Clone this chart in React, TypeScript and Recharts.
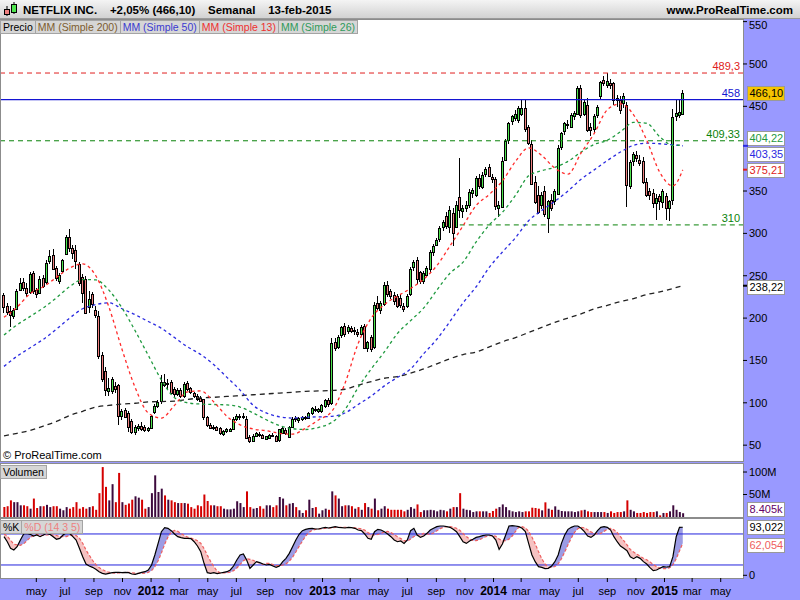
import React from 'react';
import { ComposedChart, Bar, Line, Area, XAxis, YAxis, ReferenceLine, Cell } from 'recharts';

// semana 0 = lunes 21-feb-2011, una vela por semana
const START = Date.UTC(2011, 1, 21);
const WEEK = 7 * 24 * 3600 * 1000;
const X_DOMAIN: [number, number] = [-0.915, 225.37];

// [apertura, máximo, mínimo, cierre]
const ohlc: number[][] = [
  [227, 230, 206, 213], [214, 218, 204, 207], [208, 214, 190, 203], [203, 212, 199, 210], [211, 234, 209, 232], [234, 247, 232, 242], [243, 247, 232, 236], [236, 241, 225, 230],
  [231, 255, 229, 252], [253, 256, 228, 232], [233, 236, 224, 228], [229, 250, 228, 246], [247, 251, 235, 238], [242, 268, 240, 265], [267, 280, 264, 273], [275, 281, 257, 259],
  [259, 262, 244, 247], [244, 253, 240, 251], [255, 270, 253, 268], [276, 298, 274, 296], [296, 305, 278, 283], [283, 286, 270, 277], [280, 286, 258, 267], [264, 266, 238, 241],
  [249, 252, 218, 230], [246, 250, 205, 206], [213, 232, 206, 223], [228, 231, 212, 216], [210, 214, 200, 204], [202, 208, 152, 155], [157, 160, 125, 129], [137, 142, 108, 114],
  [114, 129, 108, 118], [114, 130, 110, 128], [120, 125, 112, 116], [121, 122, 74, 84], [84, 93, 80, 90], [92, 94, 83, 84], [88, 90, 66, 72], [78, 81, 63, 65],
  [66, 74, 62, 72], [71, 75, 67, 73], [73, 77, 67, 70], [72, 74, 66, 68], [68, 72, 65, 70], [70, 86, 69, 84], [89, 98, 87, 96], [96, 103, 94, 101],
  [101, 133, 99, 124], [125, 134, 119, 121], [122, 128, 116, 123], [125, 127, 110, 112], [116, 119, 107, 110], [110, 117, 108, 115], [115, 117, 106, 108], [108, 124, 106, 122],
  [123, 126, 114, 116], [117, 119, 110, 112], [111, 113, 106, 108], [108, 110, 102, 104], [106, 108, 101, 103], [104, 105, 80, 83], [83, 84, 71, 73], [74, 76, 69, 71],
  [71, 74, 68, 72], [72, 73, 68, 69], [70, 71, 62, 64], [64, 68, 61, 67], [66, 70, 64, 68.5], [67, 70, 65, 69], [69, 83, 68, 81], [81, 87, 79, 85],
  [83, 87, 80, 84], [84, 88, 81, 85], [81, 84, 57, 59], [60, 62, 53, 55], [55, 63, 54, 61], [61, 66, 60, 64.5], [63, 65, 60, 62], [62, 63, 58, 59],
  [57.5, 61, 56, 60.5], [58.7, 63, 57, 62.5], [62.5, 64, 60, 61.5], [60.7, 62, 54, 55], [55, 69, 54, 68.5], [64, 71, 63, 70], [68, 70, 62, 64], [60, 73, 58, 72],
  [72, 83, 71, 81], [82, 85, 77, 80.5], [80, 83, 76, 82], [80.5, 84, 78, 83], [83, 85, 80, 82], [83, 89, 81, 88.5], [88, 95, 86, 94], [93, 96, 89, 92],
  [91, 94, 88, 93], [90, 98, 88, 97], [96, 104, 94, 103], [103, 106, 95, 98], [100, 176, 97, 170.7], [172, 176, 161, 165], [166, 180, 163, 178], [179, 191, 176, 189],
  [191, 194, 178, 181], [184, 192, 181, 189], [188, 191, 182, 184], [185, 189, 180, 186], [183, 187, 178, 181], [182, 192, 179, 190], [191, 193, 163, 165], [165, 173, 160, 172],
  [178, 180, 160, 163.5], [166, 219, 163, 215.8], [217.8, 226, 210, 212], [210, 220, 205, 217.8], [217, 243, 214, 239.4], [239, 244, 225, 228], [232, 234, 222, 225.6], [227, 231, 216, 219.7],
  [226, 228, 212, 214.6], [224, 228, 212, 216], [214, 218, 207, 210], [214, 228, 212, 226], [228, 260, 226, 257.9], [260, 268, 256, 265.7], [268, 272, 240, 246], [254, 256, 240, 243.3],
  [243, 256, 240, 253], [251, 262, 248, 259], [257, 280, 255, 277.5], [277, 287, 273, 284.6], [287, 295, 285, 292.5], [292.5, 309, 290, 306], [308, 316, 303, 314], [320, 325, 305, 308.2],
  [308, 332, 300, 327.8], [324, 330, 285, 300], [308, 338, 306, 333.7], [342.8, 388.7, 318, 327.8], [326, 333, 318, 329.8], [330, 338, 325, 334], [334, 352, 330, 349.4], [348, 354, 342, 351],
  [345, 368, 343, 365.2], [365, 370, 352, 355.3], [355, 372, 352, 369], [370, 378, 366, 375.8], [378, 382, 366, 367], [367, 370, 360, 365], [364, 366, 328, 331.8], [330, 338, 319, 334],
  [332, 390, 330, 386], [387, 412, 385, 409.6], [410, 432, 405, 430], [432, 440, 428, 438], [436, 446, 433, 440.6], [434, 450, 430, 447.7], [441, 458, 438, 448.5], [448.5, 457.5, 420, 424],
  [425, 428, 404, 406.5], [406, 410, 357, 359.3], [361, 368, 335, 337.7], [345.5, 356, 323, 326], [333.7, 349, 329, 345.5], [349.5, 356, 319, 322], [318, 340, 300, 337.7], [339.6, 346, 327, 329.8],
  [337.7, 352, 333, 349.5], [347.5, 404, 345, 401.3], [401.3, 420, 398, 418.2], [420, 432, 416, 430], [428, 434, 423, 429], [426, 442, 424, 439.8], [438, 444, 434, 441.8], [441.8, 474, 440, 472],
  [472, 475, 436, 440], [442, 458, 438, 455.6], [451.6, 460, 420, 422.2], [426, 430, 415, 422], [424, 441, 418, 439], [440, 452, 436, 449.7], [461.5, 480, 458, 478.4], [481, 486, 474, 477.2],
  [475, 489.3, 472, 480], [477, 482, 470, 474.5], [477, 479, 452, 457.5], [459.5, 463, 449, 457.5], [457.5, 462, 441, 445.7], [454.8, 466, 448, 462.6], [451.6, 455, 330.6, 357.3], [357, 387, 352, 384.8],
  [385, 396, 380, 393.5], [393, 397, 384, 389], [387, 392, 380, 383], [385.6, 390, 358, 361.3], [361, 365, 343, 345.5], [350, 353, 340, 345.5], [347.5, 352, 330, 335.7], [335.7, 347, 316, 341.6],
  [343.6, 346, 328, 337.7], [337, 352, 330, 349.5], [343.6, 348, 316, 329.8], [329.8, 340, 315, 337.7], [339.6, 447, 334, 437.9], [438, 458, 433, 441.8], [439.8, 458, 436, 443.8], [441.8, 469, 440, 466.1],
];

// volumen semanal, millones
const volume: number[] = [
  22, 24, 37, 33, 33, 26, 26, 24, 18.5, 41, 20, 24, 24, 27, 22, 24, 24, 18.5, 15, 22, 18.5, 22, 33, 18.5, 22, 18.5, 22, 24, 16, 53, 111, 67,
  37, 73, 33, 98, 33, 27, 30, 38.5, 46, 43, 38.5, 18.5, 22, 53, 92.6, 55.6, 63, 48, 38.5, 37, 33, 31, 31, 31, 29.6, 22, 18.5, 26, 24, 50,
  35.6, 26, 26, 24, 24, 18.5, 17, 17, 18.5, 35, 31, 22, 57, 22, 18.5, 20, 24, 18.5, 26, 26, 22, 26, 44.5, 41, 26, 29.6, 31, 22, 15, 9,
  15, 38.5, 20, 22, 7.4, 15, 18.5, 16, 57, 48, 41, 24, 26, 26, 24, 18.5, 22, 16, 31, 22, 18.5, 41, 15, 18.5, 24, 18.5, 16, 16, 16, 16,
  12.6, 16, 22, 18.5, 28, 11, 15, 15, 16, 15, 12.6, 16, 15, 12.6, 18.5, 22, 22, 53, 18.5, 16, 15, 11, 12.6, 12.6, 12.6, 12.6, 9, 13.3, 18.5, 22,
  28, 22, 15, 12.6, 11, 12.6, 11, 12.6, 12.6, 20.7, 20, 18.5, 14.8, 32.6, 18.5, 16, 23.7, 16, 13.3, 12.6, 12.6, 12.6, 11, 12.6, 14.8, 16, 12.6, 11,
  11, 11, 11, 11, 9, 12.6, 9, 11, 11, 12.6, 37, 16, 12.6, 9, 9, 11, 9, 11, 11, 12.6, 3.7, 9, 9, 12.6, 26, 16, 11, 8.405,
];

// estocástico (14 3 5)
const stochK: number[] = [
  74.7, 65, 52.2, 49, 55.4, 68.3, 80, 81.2, 79.3, 76, 78, 74.7, 78, 81.2, 79.3, 74.7, 69.6, 71.5, 78, 82.5, 81.2, 74.7, 68.3, 52.2, 36, 21.9, 18, 15.4, 11.6, 7, 3.8, 2.5,
  3.8, 5.1, 5.7, 5.7, 5.1, 5.7, 5.1, 2.5, 1.9, 3.8, 5.7, 7, 10.3, 20, 39.3, 61.8, 84.4, 92.1, 90.9, 86.4, 80, 74.7, 72.8, 71.5, 71.5, 70.9, 65, 56.7, 45.7, 23.2,
  5.1, 3.8, 5.1, 3.2, 4.5, 5.7, 7, 10.3, 18, 29.6, 39.3, 41.2, 29.6, 13.5, 20, 26.4, 24.5, 21.9, 20, 21.2, 18, 15.4, 18, 26.4, 32.8, 42.5, 55.4, 68.3, 79.3, 86.4,
  88.9, 90.2, 90.9, 89.6, 89.6, 91.5, 92.8, 91.5, 92.8, 94.1, 92.8, 92.1, 91.5, 92.8, 92.1, 90.9, 87.6, 86.4, 80, 71.5, 69.6, 84.4, 88.9, 87.6, 84.4, 80, 74.7, 68.3, 65, 66.4,
  61.8, 68.3, 86.4, 90.9, 78, 73.4, 76, 81.2, 87.6, 90.9, 94.1, 95.4, 95.4, 94.1, 92.8, 88.9, 84.4, 74.7, 65, 61.8, 66.4, 69.6, 73.4, 74.7, 76.7, 78, 78, 76, 68.3, 50.2,
  60.6, 78, 95.4, 96, 95.4, 94.1, 90.9, 84.4, 61.8, 39.3, 26.4, 16.7, 15.4, 12.9, 13.5, 18, 26.4, 39.3, 61.8, 78, 88.9, 92.8, 95.4, 95.4, 90.9, 84.4, 76, 73.4, 78, 86.4,
  92.8, 94.1, 92.8, 87.6, 74.7, 65, 56.7, 52.2, 47.7, 36, 32.2, 36, 32.8, 26.4, 21.9, 14.8, 9, 10.3, 13.5, 16.7, 16.1, 16.7, 36, 74.7, 92.8, 93.022,
];
const stochD: number[] = [
  80, 76, 68, 60, 59, 58, 61, 67, 73, 77, 79, 78, 77, 78, 78, 78, 77, 75, 75, 75, 77, 78, 77, 72, 62, 49, 39, 29, 21, 15, 11, 8,
  6, 4.6, 4.2, 4.6, 5.3, 5.5, 5.5, 4.8, 4.2, 3.8, 3.8, 4.2, 5.7, 9, 16.5, 28, 43, 60, 74, 83, 87, 85, 81, 77, 74, 72, 70, 67, 62, 52,
  39, 27, 17, 8, 4.3, 4.5, 5.1, 6.1, 9, 14, 21, 28, 32, 31, 29, 26, 23, 21, 23, 23, 21, 19, 18.5, 20, 22, 27, 35, 45, 56, 66,
  76, 83, 87, 89, 90, 90, 91, 91, 92, 92.5, 93, 93, 93, 92.5, 92.5, 92, 91, 90, 87.5, 83, 79, 78, 79, 81, 84, 85, 83, 79, 74.6, 71,
  67, 66, 70, 75, 77, 79, 81, 80, 79, 82, 86, 90, 93, 94, 94.4, 93, 91, 87, 81, 75, 70, 67.5, 67, 69, 72, 75, 76.5, 77, 75.4, 70,
  67, 67, 70, 76, 85, 93, 94, 92, 85, 74, 61, 46, 32, 22, 16, 15, 17, 22, 32, 45, 59, 72, 83, 90, 93, 92, 88, 84, 81, 80,
  81, 85, 89, 91, 88, 83, 75, 67, 59, 50, 45, 41, 37, 33, 30, 26, 21, 17, 14, 13, 13, 14.5, 20, 32, 47, 62.054,
];

// medias móviles leídas cada 4 semanas
const maWeeks: number[] = [
  0, 4, 8, 12, 16, 20, 24, 28, 32, 36, 40, 44, 48, 52, 56, 60, 64, 68, 72, 76, 80, 84, 88, 92, 96, 100,
  104, 108, 112, 116, 120, 124, 128, 132, 136, 140, 144, 148, 152, 156, 160, 164, 168, 172, 176, 180, 184, 188, 192, 196, 200, 204, 207,
];
const ma13: number[] = [
  201, 213, 229, 237, 248, 259, 264, 250, 213, 163, 118, 88, 82, 97, 113, 114, 101, 84, 74, 69, 67, 64, 63, 70, 80, 90,
  123, 170, 200, 216, 226, 235, 246, 262, 285, 309, 333, 346, 362, 385, 401, 392, 377, 370, 395, 418, 446, 453, 440, 410, 372, 356, 375.21,
];
const ma26: number[] = [
  180, 192, 202, 212, 224, 237, 245.5, 245, 233, 212, 185, 156, 127, 106, 100, 98.5, 98, 97.5, 95, 88, 80, 73, 69.5, 68.5, 71, 77,
  92, 118, 140, 160, 182, 197, 212, 233, 253, 266, 290, 310, 325, 345, 368, 374, 378, 385, 396, 405, 410, 420, 431, 430, 414, 404, 404.22,
];
const ma50: number[] = [
  143, 155, 165, 175, 187, 200, 211, 216, 218, 211, 204, 196, 188, 177, 166, 157, 145, 130, 115, 97, 88, 83.5, 82, 83, 83.4, 84,
  88, 98, 108, 120, 130, 140, 158, 175, 196, 218, 237, 260, 278, 295, 315, 327, 338, 350, 364, 375, 386, 396, 404, 406.5, 405.8, 404.5, 403.35,
];
const ma200: number[] = [
  61, 64, 67.5, 72.5, 78, 85, 90, 95, 97, 98.5, 99.5, 101, 101.5, 102, 104, 105.8, 106.5, 107.5, 108.5, 109.5, 110.5, 111.5, 112.5, 113.6, 114, 114.5,
  116, 121, 125, 129, 131, 135, 140, 146, 152, 157, 160, 166, 172, 177, 183, 189, 195, 200, 205, 211, 215, 219.5, 223, 227.7, 231, 235, 238.22,
];

const MESES = ['ene', 'feb', 'mar', 'abr', 'may', 'jun', 'jul', 'ago', 'sep', 'oct', 'nov', 'dic'];
const tickMonths: [number, number][] = [
  [2011, 4], [2011, 6], [2011, 8], [2011, 10],
  [2012, 0], [2012, 2], [2012, 4], [2012, 6], [2012, 8], [2012, 10],
  [2013, 0], [2013, 2], [2013, 4], [2013, 6], [2013, 8], [2013, 10],
  [2014, 0], [2014, 2], [2014, 4], [2014, 6], [2014, 8], [2014, 10],
  [2015, 0], [2015, 2], [2015, 4],
];
const weekPos = (y: number, m: number) => (Date.UTC(y, m, 1) - START) / WEEK;
const xTicks = tickMonths.map(([y, m]) => weekPos(y, m));
const tickText = tickMonths.map(([y, m]) => (m === 0 ? String(y) : MESES[m]));

const LEGEND: [string, string][] = [
  ['Precio', '#000'],
  ['MM (Simple 200)', '#7d5c2e'],
  ['MM (Simple 50)', '#3a3ad0'],
  ['MM (Simple 13)', '#ee3030'],
  ['MM (Simple 26)', '#2f9a5a'],
];

const rows: any[] = ohlc.map(([o, h, l, c], i) => ({
  i, o, h, l, c,
  range: [l, h],
  vol: volume[i] * 1e6,
  k: stochK[i],
  d: stochD[i],
  kUp: [stochD[i], Math.max(stochK[i], stochD[i])],
  kDn: [Math.min(stochK[i], stochD[i]), stochD[i]],
}));
maWeeks.forEach((w, j) => {
  rows[w].ma13 = ma13[j];
  rows[w].ma26 = ma26[j];
  rows[w].ma50 = ma50[j];
  rows[w].ma200 = ma200[j];
});

const FONT = '"Liberation Sans", Arial, sans-serif';
const BG = '#9999ff';

function Candle(props: any) {
  const { x, y, width, height, payload } = props;
  if (!payload || height == null) return null;
  const { o, h, l, c } = payload;
  const top = Math.min(y, y + height);
  const span = Math.abs(height);
  const k = span / (h - l);
  const cx = Math.floor(x + width / 2) + 0.5;
  const yo = top + (h - o) * k;
  const yc = top + (h - c) * k;
  const bTop = Math.round(Math.min(yo, yc)) + 0.5;
  const bH = Math.max(Math.round(Math.abs(yc - yo)), 1);
  return (
    <g shapeRendering="crispEdges">
      <line x1={cx} x2={cx} y1={top} y2={top + span} stroke="#000" />
      <rect x={cx - 1} y={bTop} width={2} height={bH} fill={c >= o ? '#4ee44e' : '#f08080'} stroke="#000" />
    </g>
  );
}

const levelLabel = (text: string, color: string) => (p: any) => {
  const vb = p.viewBox;
  return (
    <text x={vb.x + vb.width - 3} y={vb.y - 3} textAnchor="end" fontSize={11} fill={color} fontFamily={FONT}>
      {text}
    </text>
  );
};

const axisBox = (text: string, color: string, bg = '#fff', dy = 0, tick = false) => (p: any) => {
  const vb = p.viewBox;
  const x0 = vb.x + vb.width;
  const y = vb.y;
  return (
    <g>
      {tick && <line x1={x0} x2={x0 + 5} y1={y} y2={y} stroke={color} strokeWidth={2} />}
      <rect x={x0 + 4.5} y={Math.round(y + dy - 7) + 0.5} width={37} height={14} fill={bg} stroke="#999" />
      <text x={x0 + 6.5} y={y + dy + 4} fontSize={11} fill={color} fontFamily={FONT}>{text}</text>
    </g>
  );
};

const MonthTick = (props: any) => {
  const { x, y, index } = props;
  const lab = tickText[index];
  const isYear = /^\d+$/.test(lab);
  return (
    <text x={x} y={y} dy={11} textAnchor="middle" fontSize={isYear ? 12 : 11} fontWeight={isYear ? 'bold' : 'normal'} fill="#000" fontFamily={FONT}>
      {lab}
    </text>
  );
};

const yTick = { fontSize: 11, fill: '#000', fontFamily: FONT };

const legendBox = (color: string): React.CSSProperties => ({
  height: 14, boxSizing: 'border-box', marginRight: -1,
  background: '#d6d6d6', border: '1px solid #a4a4a4', color, fontSize: 10.5, lineHeight: '12px',
  padding: '0 2px', whiteSpace: 'nowrap', fontFamily: FONT,
});

const tagBox = (left: number, top: number, color: string): React.CSSProperties => ({
  position: 'absolute', left, top, height: 14, boxSizing: 'border-box',
  background: '#d6d6d6', border: '1px solid #a4a4a4', color, fontSize: 10.5, lineHeight: '12px',
  padding: '0 2px', whiteSpace: 'nowrap', fontFamily: FONT,
});

const panel = (top: number, height: number): React.CSSProperties => ({
  position: 'absolute', left: 0, top, width: 744, height, boxSizing: 'border-box',
  background: '#fff', border: '1px solid #8c8c8c',
});

export default function App() {
  return (
    <div style={{ position: 'absolute', left: 0, top: 0, width: 800, height: 600, background: BG, fontFamily: FONT, overflow: 'hidden' }}>
      {/* cabecera */}
      <div style={{ position: 'absolute', left: 0, top: 0, width: 800, height: 19, boxSizing: 'border-box', borderBottom: '1px solid #9a9a9a', background: 'linear-gradient(#f4f4f4, #d2d2d2)' }} />
      <svg style={{ position: 'absolute', left: 2, top: 2 }} width={16} height={15}>
        <line x1={5} x2={5} y1={4} y2={14} stroke="#000" />
        <rect x={2.5} y={7.5} width={5} height={5} fill="#f08080" stroke="#000" />
        <line x1={12} x2={12} y1={0} y2={12} stroke="#000" />
        <rect x={9.5} y={2.5} width={5} height={8} fill="#4ee44e" stroke="#000" />
      </svg>
      <div style={{ position: 'absolute', left: 23, top: 3, fontSize: 11.5, fontWeight: 'bold', whiteSpace: 'pre', lineHeight: '14px' }}>
        NETFLIX INC.{'    '}+2,05% (466,10){'    '}Semanal{'    '}13-feb-2015
      </div>
      <div style={{ position: 'absolute', right: 7, top: 3, fontSize: 11.5, fontWeight: 'bold', lineHeight: '14px' }}>www.ProRealTime.com</div>

      <div style={panel(19, 443)} />
      <div style={panel(463, 55)} />
      <div style={panel(518, 61)} />

      {/* precio */}
      <div style={{ position: 'absolute', left: 0, top: 19 }}>
        <ComposedChart width={800} height={443} data={rows} margin={{ top: 1, right: 0, bottom: 1, left: 1 }}>
          <XAxis dataKey="i" type="number" domain={X_DOMAIN} hide allowDataOverflow />
          <YAxis orientation="right" width={57} domain={[31.3, 551.9]} allowDataOverflow
            ticks={[50, 100, 150, 200, 250, 300, 350, 450, 500, 550]} axisLine={false}
            tickLine={{ stroke: '#000' }} tickSize={4} tickMargin={2} tick={yTick} />
          <ReferenceLine y={489.3} stroke="#e02020" strokeDasharray="5 4" label={levelLabel('489,3', '#e02020')} />
          <ReferenceLine y={458} stroke="#1414d2" strokeWidth={1.2} label={levelLabel('458', '#1414d2')} />
          <ReferenceLine y={409.33} stroke="#0a820a" strokeDasharray="5 4" label={levelLabel('409,33', '#0a820a')} />
          <ReferenceLine segment={[{ x: 139, y: 310 }, { x: X_DOMAIN[1], y: 310 }]} stroke="#0a820a" strokeDasharray="5 4" label={levelLabel('310', '#0a820a')} />
          <Line dataKey="ma200" type="monotone" stroke="#222" strokeWidth={1.3} strokeDasharray="5 4" dot={false} connectNulls isAnimationActive={false} />
          <Line dataKey="ma50" type="monotone" stroke="#2a2ae0" strokeWidth={1.3} strokeDasharray="3 3" dot={false} connectNulls isAnimationActive={false} />
          <Line dataKey="ma26" type="monotone" stroke="#1f9a3f" strokeWidth={1.3} strokeDasharray="3 3" dot={false} connectNulls isAnimationActive={false} />
          <Line dataKey="ma13" type="monotone" stroke="#ff2a2a" strokeWidth={1.3} strokeDasharray="3 3" dot={false} connectNulls isAnimationActive={false} />
          <Bar dataKey="range" barSize={3} shape={<Candle />} isAnimationActive={false} />
          <ReferenceLine y={466.1} stroke="transparent" label={axisBox('466,10', '#000', '#f5c400')} />
          <ReferenceLine y={404.22} stroke="transparent" label={axisBox('404,22', '#1f9a3f', '#fff', -7)} />
          <ReferenceLine y={403.35} stroke="transparent" label={axisBox('403,35', '#2a2ae0', '#fff', 8, true)} />
          <ReferenceLine y={375.21} stroke="transparent" label={axisBox('375,21', '#e02020', '#fff', 0, true)} />
          <ReferenceLine y={238.22} stroke="transparent" label={axisBox('238,22', '#000', '#fff', 1, true)} />
        </ComposedChart>
      </div>

      {/* volumen */}
      <div style={{ position: 'absolute', left: 0, top: 464 }}>
        <ComposedChart width={800} height={53} data={rows} margin={{ top: 1, right: 0, bottom: 0, left: 1 }}>
          <XAxis dataKey="i" type="number" domain={X_DOMAIN} hide allowDataOverflow />
          <YAxis orientation="right" width={57} domain={[0, 115.6e6]} allowDataOverflow ticks={[50e6, 100e6]}
            tickFormatter={(v: number) => `${v / 1e6}M`} axisLine={false}
            tickLine={{ stroke: '#000' }} tickSize={4} tickMargin={2} tick={yTick} />
          <Bar dataKey="vol" barSize={2} isAnimationActive={false}>
            {rows.map((r) => (
              <Cell key={r.i} fill={r.c < r.o ? '#d40000' : '#3d0a3d'} />
            ))}
          </Bar>
          <ReferenceLine y={8.405e6} stroke="transparent" label={axisBox('8.405k', '#660066', '#fff', -4)} />
        </ComposedChart>
      </div>

      {/* estocástico */}
      <div style={{ position: 'absolute', left: 0, top: 519 }}>
        <ComposedChart width={800} height={81} data={rows} margin={{ top: 1, right: 0, bottom: 0, left: 1 }}>
          <XAxis dataKey="i" type="number" domain={X_DOMAIN} allowDataOverflow ticks={xTicks} interval={0}
            height={22} axisLine={false} tickLine={{ stroke: '#000' }} tickSize={4} tick={<MonthTick />} />
          <YAxis orientation="right" width={57} domain={[-5.2, 107]} allowDataOverflow ticks={[0]}
            axisLine={false} tickLine={{ stroke: '#000' }} tickSize={4} tickMargin={2} tick={yTick} />
          <Area dataKey="kUp" type="linear" stroke="none" fill="#9c9ce4" fillOpacity={1} isAnimationActive={false} />
          <Area dataKey="kDn" type="linear" stroke="none" fill="#f6c2c2" fillOpacity={1} isAnimationActive={false} />
          <ReferenceLine y={80} stroke="#2222dd" />
          <ReferenceLine y={20} stroke="#2222dd" />
          <Line dataKey="d" type="linear" stroke="#ee6060" strokeWidth={1.2} strokeDasharray="3 2" dot={false} isAnimationActive={false} />
          <Line dataKey="k" type="linear" stroke="#000" strokeWidth={1.2} dot={false} isAnimationActive={false} />
          <ReferenceLine y={93.022} stroke="transparent" label={axisBox('93,022', '#000')} />
          <ReferenceLine y={62.054} stroke="transparent" label={axisBox('62,054', '#ee6060', '#fff', 2)} />
        </ComposedChart>
      </div>

      {/* leyendas */}
      <div style={{ position: 'absolute', left: 0, top: 20, display: 'flex' }}>
        {LEGEND.map(([t, c]) => (
          <div key={t} style={legendBox(c)}>{t}</div>
        ))}
      </div>
      <div style={{ position: 'absolute', left: 3, top: 448, fontSize: 11, lineHeight: '14px' }}>© ProRealTime.com</div>
      <div style={tagBox(0, 465, '#000')}>Volumen</div>
      <div style={{ position: 'absolute', left: 0, top: 520, display: 'flex' }}>
        <div style={legendBox('#000')}>%K</div>
        <div style={legendBox('#ee8080')}>%D (14 3 5)</div>
      </div>
    </div>
  );
}
